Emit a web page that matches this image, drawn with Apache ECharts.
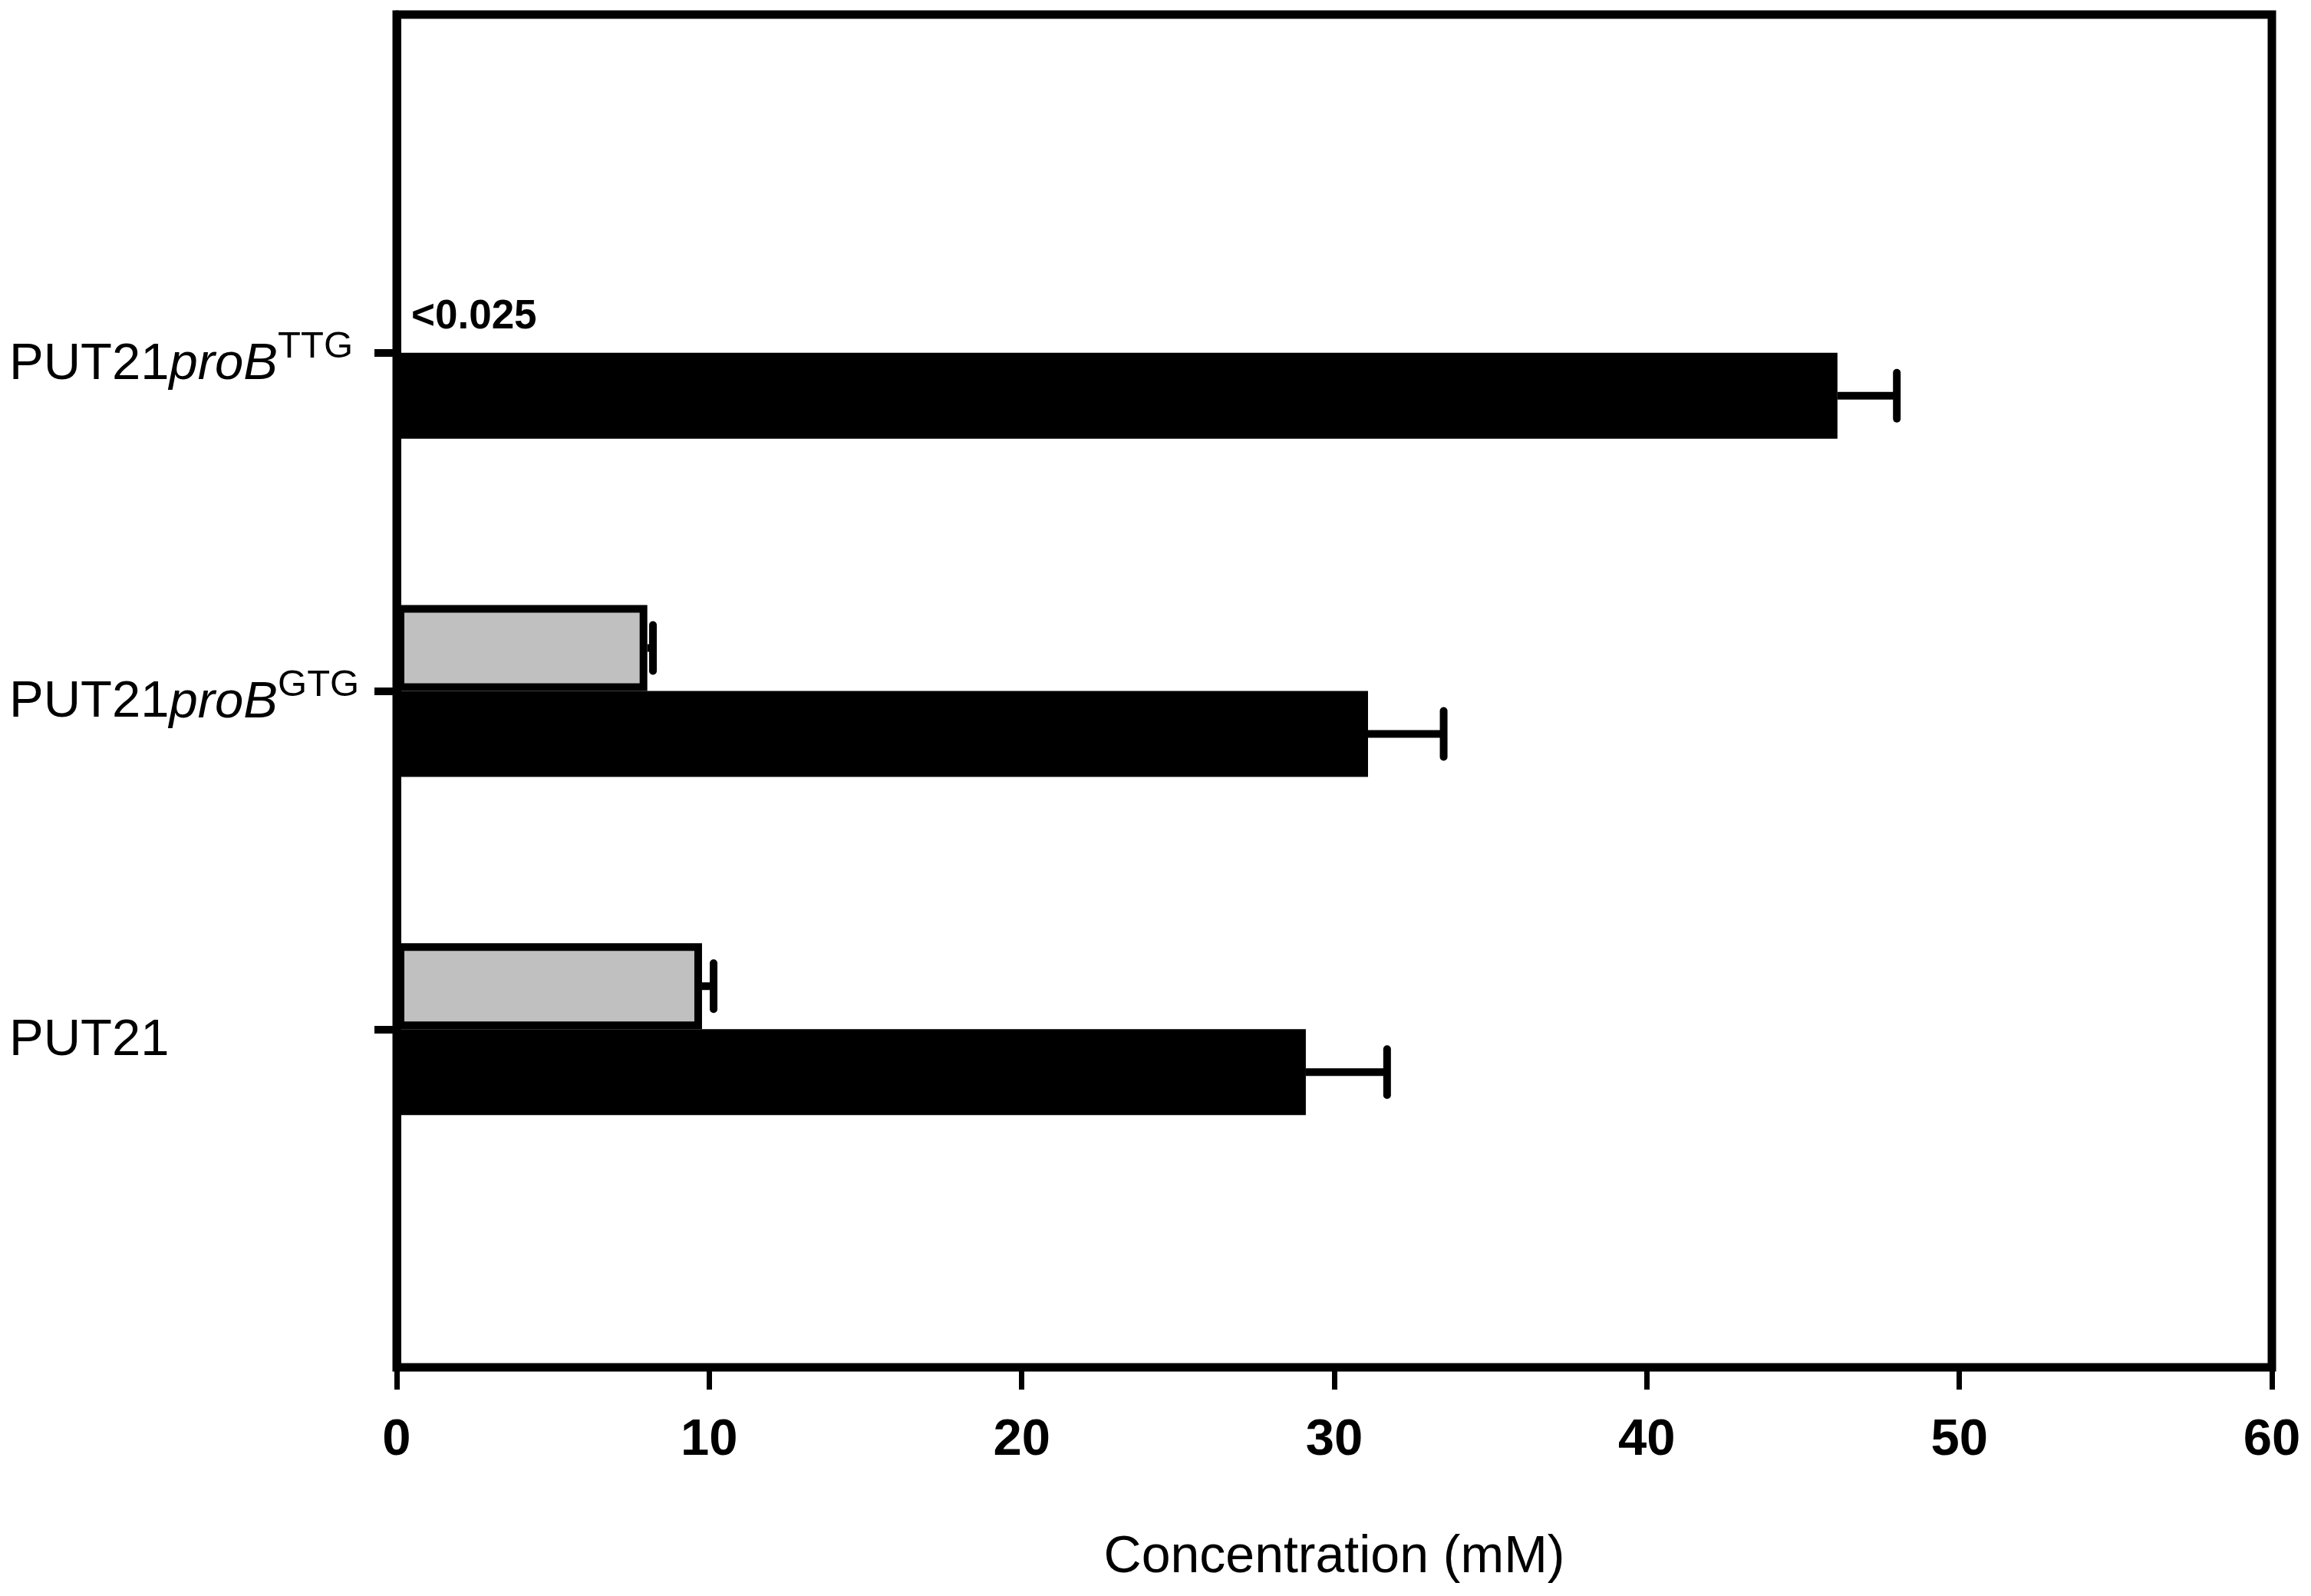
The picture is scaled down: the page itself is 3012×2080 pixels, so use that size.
<!DOCTYPE html>
<html>
<head>
<meta charset="utf-8">
<script src="https://cdn.jsdelivr.net/npm/echarts@6/dist/echarts.min.js"></script>
<style>
html,body{margin:0;padding:0;background:#fff;}
#c{width:3012px;height:2080px;}
</style>
</head>
<body>
<div id="c"></div>
<script>
// ---- data ----
var categories = ['', 'PUT21', 'PUT21proB GTG', 'PUT21proB TTG', ''];
var grayValues  = [null, 9.77, 8.02, 0, null];
var grayErrors  = [null, 0.37, 0.18, null, null];
var blackValues = [null, 29.09, 31.08, 46.1, null];
var blackErrors = [null, 2.6, 2.42, 1.9, null];
var grayLabels  = [null, null, null, '<0.025', null];
var xTicks = [0, 10, 20, 30, 40, 50, 60];
var xTitle = 'Concentration (mM)';

// ---- style ----
var BAR_W = 112;
var FONT = "'Liberation Sans', Arial, sans-serif";

var labelRich = {
  PUT21: '{a|PUT21}',
  'PUT21proB GTG': '{a|PUT21}{i|proB}{s|GTG}',
  'PUT21proB TTG': '{a|PUT21}{i|proB}{s|TTG}'
};

var grayData = grayValues.map(function (v, i) {
  if (v === null) return null;
  var d = { value: v };
  if (grayLabels[i]) {
    d.label = {
      show: true, position: 'right', distance: 14, offset: [0, 10],
      formatter: grayLabels[i], color: '#000', fontFamily: FONT,
      fontWeight: 'bold', fontSize: 53
    };
  }
  return d;
});

var errData = [];
for (var i = 0; i < categories.length; i++) {
  if (grayErrors[i] !== null) errData.push([grayValues[i], grayErrors[i], i, -1]);
  if (blackErrors[i] !== null) errData.push([blackValues[i], blackErrors[i], i, 1]);
}

var chart = echarts.init(document.getElementById('c'), null, { renderer: 'canvas' });
chart.setOption({
  animation: false,
  backgroundColor: '#fff',
  grid: {
    left: 517, right: 3012 - 2961, top: 19, bottom: 2080 - 1782,
    show: true, borderColor: '#000', borderWidth: 11, backgroundColor: 'transparent',
    containLabel: false
  },
  xAxis: {
    type: 'value', min: xTicks[0], max: xTicks[xTicks.length - 1], interval: 10,
    axisLine: { show: true, onZero: false, lineStyle: { color: '#000', width: 10 } },
    axisTick: { show: true, inside: false, length: 29, lineStyle: { color: '#000', width: 7 } },
    splitLine: { show: false },
    axisLabel: { color: '#000', fontFamily: FONT, fontWeight: 'bold', fontSize: 67, margin: 62 },
    name: xTitle, nameLocation: 'middle', nameGap: 214,
    nameTextStyle: { color: '#000', fontFamily: FONT, fontSize: 68 }
  },
  yAxis: {
    type: 'category', data: categories, boundaryGap: false,
    axisLine: { show: true, lineStyle: { color: '#000', width: 11 } },
    axisTick: {
      show: true, inside: false, length: 29, alignWithLabel: true,
      interval: function (idx) { return idx >= 1 && idx <= 3; },
      lineStyle: { color: '#000', width: 10 }
    },
    splitLine: { show: false },
    axisLabel: {
      interval: function (idx) { return idx >= 1 && idx <= 3; },
      align: 'left', margin: 505, color: '#000', fontFamily: FONT,
      padding: [28, 0, 0, 0],
      formatter: function (v) { return labelRich[v] || ''; },
      rich: {
        a: { fontFamily: FONT, fontSize: 67, color: '#000', lineHeight: 70, verticalAlign: 'bottom' },
        i: { fontFamily: FONT, fontSize: 67, fontStyle: 'italic', color: '#000', lineHeight: 70, verticalAlign: 'bottom' },
        s: { fontFamily: FONT, fontSize: 49, color: '#000', lineHeight: 49, verticalAlign: 'bottom', padding: [0, 0, 32, 0] }
      }
    }
  },
  series: [
    {
      name: 'gray', type: 'bar', data: grayData, barWidth: BAR_W, barGap: '0%',
      itemStyle: { color: '#c0c0c0', borderColor: '#000', borderWidth: 10 }
    },
    {
      name: 'black', type: 'bar', data: blackValues, barWidth: BAR_W, barGap: '0%',
      itemStyle: { color: '#000', borderColor: '#000', borderWidth: 10 }
    },
    {
      name: 'err', type: 'custom', data: errData, z: 5,
      encode: { x: 0, y: 2 },
      renderItem: function (params, api) {
        var v = api.value(0), e = api.value(1), ci = api.value(2), side = api.value(3);
        var p0 = api.coord([v, ci]);
        var p1 = api.coord([v + e, ci]);
        var y = p0[1] + side * BAR_W / 2;
        return {
          type: 'group',
          children: [
            { type: 'line', shape: { x1: p0[0], y1: y, x2: p1[0], y2: y }, style: { stroke: '#000', lineWidth: 10 } },
            { type: 'line', shape: { x1: p1[0], y1: y - 30, x2: p1[0], y2: y + 30 }, style: { stroke: '#000', lineWidth: 10, lineCap: 'round' } }
          ]
        };
      }
    }
  ]
});
</script>
</body>
</html>
